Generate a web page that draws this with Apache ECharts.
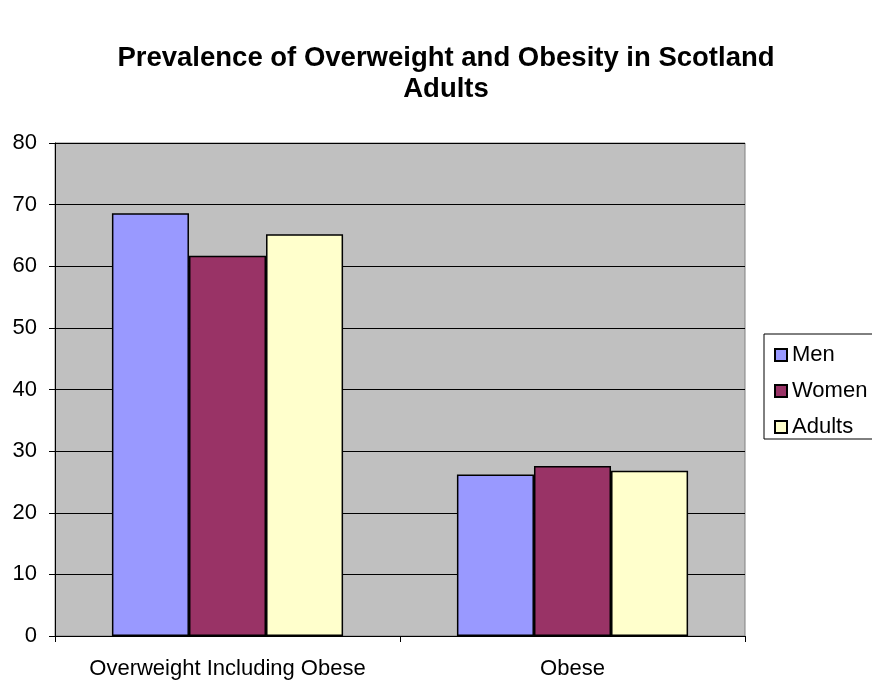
<!DOCTYPE html>
<html>
<head>
<meta charset="utf-8">
<script src="https://cdn.jsdelivr.net/npm/echarts@6/dist/echarts.min.js"></script>
<style>
  html, body { margin: 0; padding: 0; background: #ffffff; }
  #chart { width: 872px; height: 680px; }
</style>
</head>
<body>
<div id="chart"></div>
<script>
// Prevalence (%) of overweight and obesity among Scottish adults
const categories = ['Overweight Including Obese', 'Obese'];
const men = [68.6, 26.2];
const women = [61.7, 27.6];
const adults = [65.2, 26.8];
const seriesNames = ['Men', 'Women', 'Adults'];
const seriesColors = ['#9999FF', '#993366', '#FFFFCC'];
const seriesData = [men, women, adults];

const font = 'Arial, "Liberation Sans", sans-serif';

const chart = echarts.init(document.getElementById('chart'), null, { renderer: 'canvas' });

chart.setOption({
  backgroundColor: '#ffffff',
  animation: false,
  title: {
    text: 'Prevalence of Overweight and Obesity in Scotland\nAdults',
    left: 446,
    textAlign: 'center',
    top: 43,
    padding: 0,
    textStyle: {
      fontFamily: font,
      fontSize: 27.5,
      fontWeight: 'bold',
      color: '#000000',
      lineHeight: 31
    }
  },
  legend: {
    orient: 'vertical',
    left: 764,
    top: 334,
    data: seriesNames,
    icon: 'rect',
    itemWidth: 12,
    itemHeight: 12,
    itemGap: 14,
    padding: [10, 30, 1, 10],
    borderColor: '#000000',
    borderWidth: 1,
    backgroundColor: '#ffffff',
    textStyle: { fontFamily: font, fontSize: 22, color: '#000000' }
  },
  grid: {
    left: 55,
    right: 127,
    top: 143,
    bottom: 44,
    show: true,
    backgroundColor: '#C0C0C0',
    borderColor: '#808080',
    borderWidth: 1
  },
  xAxis: {
    type: 'category',
    data: categories,
    axisLine: { lineStyle: { color: '#000000', width: 1 } },
    axisTick: { show: true, length: 6, alignWithLabel: false, lineStyle: { color: '#000000' } },
    axisLabel: { fontFamily: font, fontSize: 22, color: '#000000', margin: 22, interval: 0, hideOverlap: false },
    splitLine: { show: false }
  },
  yAxis: {
    type: 'value',
    min: 0,
    max: 80,
    interval: 10,
    axisLine: { show: true, lineStyle: { color: '#000000', width: 1 } },
    axisTick: { show: true, length: 6, lineStyle: { color: '#000000' } },
    axisLabel: { fontFamily: font, fontSize: 22, color: '#000000', margin: 18 },
    splitLine: { show: true, lineStyle: { color: '#000000', width: 1 } }
  },
  series: seriesNames.map((name, i) => ({
    name: name,
    type: 'bar',
    data: seriesData[i],
    barGap: '0%',
    barCategoryGap: '33%',
    itemStyle: {
      color: seriesColors[i],
      borderColor: '#000000',
      borderWidth: 1.5
    }
  }))
});
</script>
</body>
</html>
